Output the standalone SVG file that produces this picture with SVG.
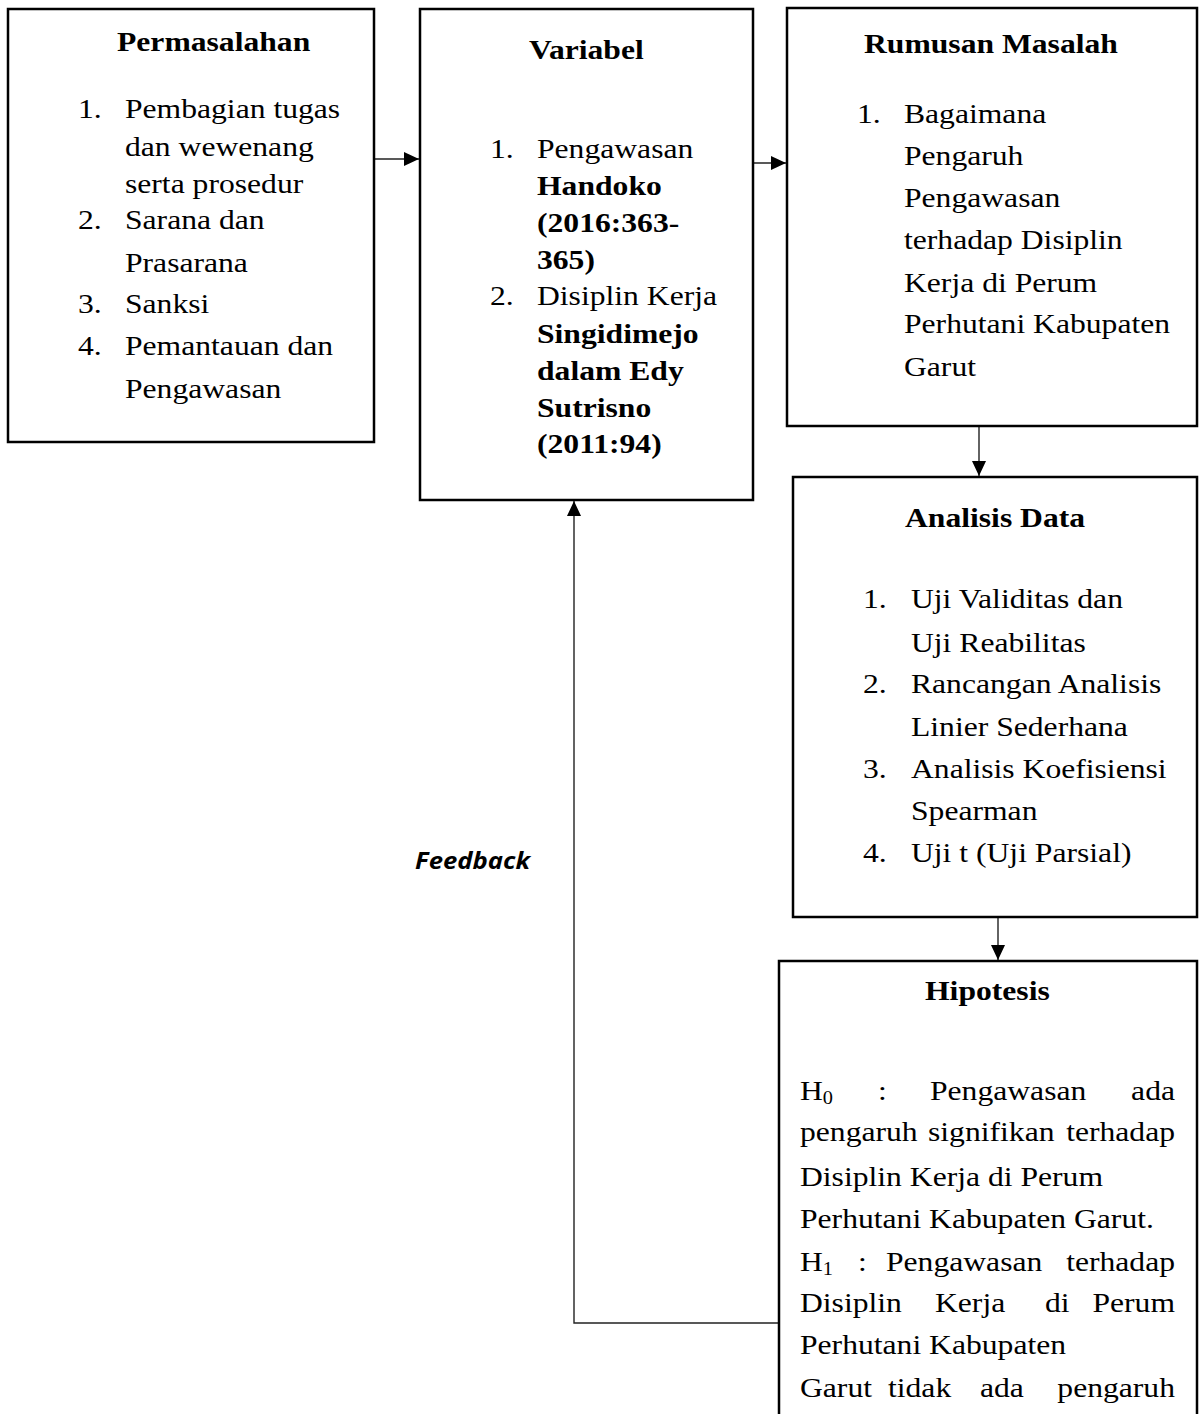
<svg xmlns="http://www.w3.org/2000/svg" width="1200" height="1414" viewBox="0 0 1200 1414">
<style>
.box{fill:#fff;stroke:#000;stroke-width:2.5}
.con{fill:none;stroke:#222;stroke-width:1.4}
.t{font-family:"Liberation Serif","Times New Roman",serif;font-size:28px;fill:#000;transform-box:fill-box;transform-origin:0 0;transform:scaleX(1.13)}
.b{font-weight:bold}
.e{text-anchor:end;transform-origin:100% 0}
.fb{font-family:"Open Sans","Liberation Sans",sans-serif;font-size:24px;font-weight:bold;font-style:italic;fill:#000}
</style>
<defs>
<marker id="ah" markerUnits="userSpaceOnUse" markerWidth="16" markerHeight="15" refX="15" refY="7" orient="auto">
<path d="M0,0 L15,7 L0,14 Z" fill="#000"/>
</marker>
</defs>
<rect width="1200" height="1414" fill="#fff"/>
<g id="connectors">
<path class="con" d="M373,159 H419" marker-end="url(#ah)"/>
<path class="con" d="M737,163 H786" marker-end="url(#ah)"/>
<path class="con" d="M979,426 V476" marker-end="url(#ah)"/>
<path class="con" d="M998,917 V960" marker-end="url(#ah)"/>
<path class="con" d="M787,1323 H574 V501" marker-end="url(#ah)"/>
<text class="fb" x="415" y="869" textLength="115" lengthAdjust="spacingAndGlyphs">Feedback</text>
</g>
<g id="permasalahan">
<rect class="box" x="8" y="9" width="366" height="433"/>
<text class="t b" x="117" y="51">Permasalahan</text>
<text class="t" x="78" y="118">1.</text>
<text class="t" x="125" y="118">Pembagian tugas</text>
<text class="t" x="125" y="156">dan wewenang</text>
<text class="t" x="125" y="193">serta prosedur</text>
<text class="t" x="78" y="229">2.</text>
<text class="t" x="125" y="229">Sarana dan</text>
<text class="t" x="125" y="272">Prasarana</text>
<text class="t" x="78" y="313">3.</text>
<text class="t" x="125" y="313">Sanksi</text>
<text class="t" x="78" y="355">4.</text>
<text class="t" x="125" y="355">Pemantauan dan</text>
<text class="t" x="125" y="398">Pengawasan</text>
</g>
<g id="variabel">
<rect class="box" x="420" y="9" width="333" height="491"/>
<text class="t b" x="529" y="59">Variabel</text>
<text class="t" x="490" y="158">1.</text>
<text class="t" x="537" y="158">Pengawasan</text>
<text class="t b" x="537" y="195">Handoko</text>
<text class="t b" x="537" y="232">(2016:363-</text>
<text class="t b" x="537" y="269">365)</text>
<text class="t" x="490" y="305">2.</text>
<text class="t" x="537" y="305">Disiplin Kerja</text>
<text class="t b" x="537" y="343">Singidimejo</text>
<text class="t b" x="537" y="380">dalam Edy</text>
<text class="t b" x="537" y="417">Sutrisno</text>
<text class="t b" x="537" y="453">(2011:94)</text>
</g>
<g id="rumusan">
<rect class="box" x="787" y="8" width="410" height="418"/>
<text class="t b" x="864" y="53">Rumusan Masalah</text>
<text class="t" x="857" y="123">1.</text>
<text class="t" x="904" y="123">Bagaimana</text>
<text class="t" x="904" y="165">Pengaruh</text>
<text class="t" x="904" y="207">Pengawasan</text>
<text class="t" x="904" y="249">terhadap Disiplin</text>
<text class="t" x="904" y="292">Kerja di Perum</text>
<text class="t" x="904" y="333">Perhutani Kabupaten</text>
<text class="t" x="904" y="376">Garut</text>
</g>
<g id="analisis">
<rect class="box" x="793" y="477" width="404" height="440"/>
<text class="t b" x="905" y="527">Analisis Data</text>
<text class="t" x="863" y="608">1.</text>
<text class="t" x="911" y="608">Uji Validitas dan</text>
<text class="t" x="911" y="652">Uji Reabilitas</text>
<text class="t" x="863" y="693">2.</text>
<text class="t" x="911" y="693">Rancangan Analisis</text>
<text class="t" x="911" y="736">Linier Sederhana</text>
<text class="t" x="863" y="778">3.</text>
<text class="t" x="911" y="778">Analisis Koefisiensi</text>
<text class="t" x="911" y="820">Spearman</text>
<text class="t" x="863" y="862">4.</text>
<text class="t" x="911" y="862">Uji t (Uji Parsial)</text>
</g>
<g id="hipotesis">
<rect class="box" x="779" y="961" width="418" height="480"/>
<text class="t b" x="925" y="1000">Hipotesis</text>
<text class="t" x="800" y="1100">H<tspan font-size="18" dy="4">0</tspan></text>
<text class="t" x="878" y="1100">:</text>
<text class="t" x="930" y="1100">Pengawasan</text>
<text class="t e" x="1175" y="1100">ada</text>
<text class="t" x="800" y="1141">pengaruh</text>
<text class="t" x="928" y="1141">signifikan</text>
<text class="t e" x="1175" y="1141">terhadap</text>
<text class="t" x="800" y="1186">Disiplin Kerja di Perum</text>
<text class="t" x="800" y="1228">Perhutani Kabupaten Garut.</text>
<text class="t" x="800" y="1271">H<tspan font-size="18" dy="4">1</tspan></text>
<text class="t" x="858" y="1271">:</text>
<text class="t" x="886" y="1271">Pengawasan</text>
<text class="t e" x="1175" y="1271">terhadap</text>
<text class="t" x="800" y="1312">Disiplin</text>
<text class="t" x="935" y="1312">Kerja</text>
<text class="t" x="1045" y="1312">di</text>
<text class="t e" x="1175" y="1312">Perum</text>
<text class="t" x="800" y="1354">Perhutani Kabupaten</text>
<text class="t" x="800" y="1397">Garut</text>
<text class="t" x="888" y="1397">tidak</text>
<text class="t" x="980" y="1397">ada</text>
<text class="t e" x="1175" y="1397">pengaruh</text>
</g>
</svg>
